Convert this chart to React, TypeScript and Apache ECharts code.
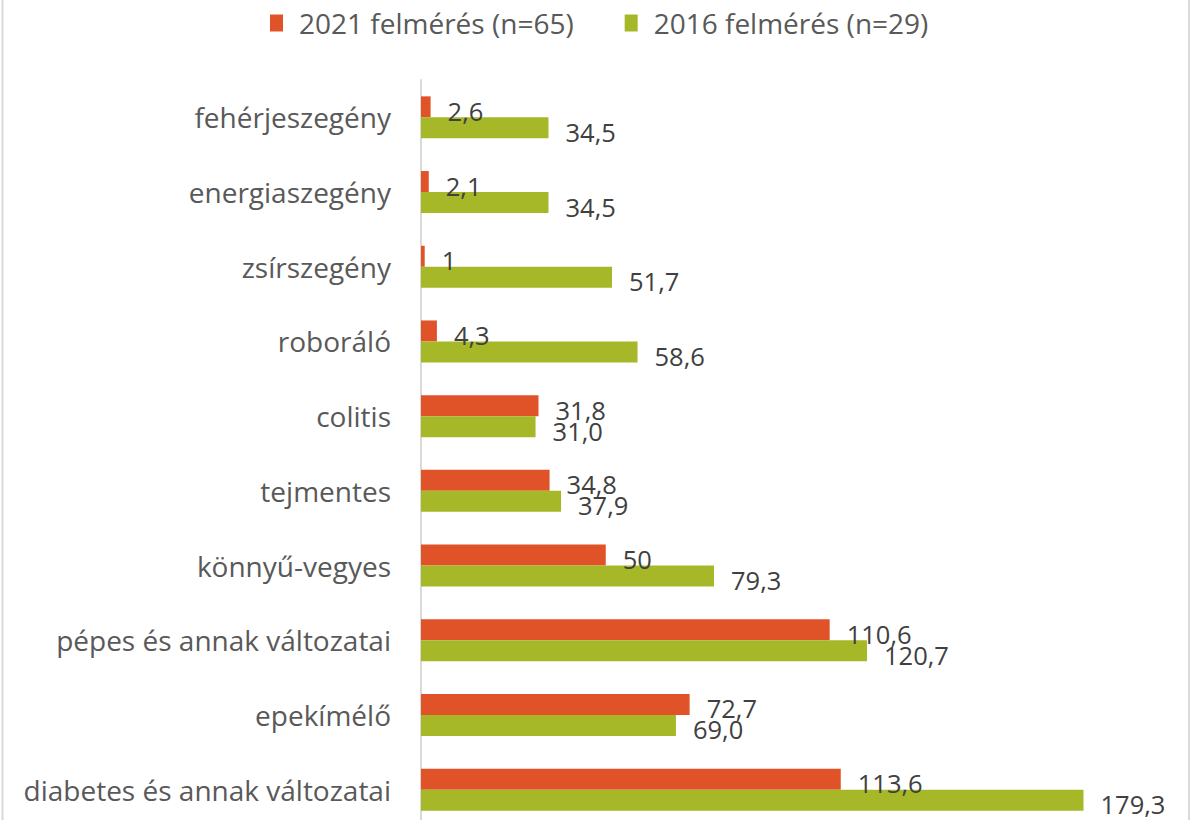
import React, { useEffect, useRef } from "react";
import * as echarts from "echarts";

const categories = [
  "fehérjeszegény",
  "energiaszegény",
  "zsírszegény",
  "roboráló",
  "colitis",
  "tejmentes",
  "könnyű-vegyes",
  "pépes és annak változatai",
  "epekímélő",
  "diabetes és annak változatai",
];
const values2021 = [2.6, 2.1, 1, 4.3, 31.8, 34.8, 50, 110.6, 72.7, 113.6];
const labels2021 = ["2,6", "2,1", "1", "4,3", "31,8", "34,8", "50", "110,6", "72,7", "113,6"];
const values2016 = [34.5, 34.5, 51.7, 58.6, 31.0, 37.9, 79.3, 120.7, 69.0, 179.3];
const labels2016 = ["34,5", "34,5", "51,7", "58,6", "31,0", "37,9", "79,3", "120,7", "69,0", "179,3"];
const seriesNames = ["2021 felmérés (n=65)", "2016 felmérés (n=29)"];

const FONT = "Open Sans";

export default function App() {
  const ref = useRef<HTMLDivElement>(null);
  useEffect(() => {
    document.body.style.margin = "0";
    const chart = echarts.init(ref.current!, null, { renderer: "svg" });
    const labelStyle = (labels: string[]) => ({
      show: true,
      position: "right",
      offset: [12, 4],
      fontFamily: FONT,
      fontSize: 25.5,
      color: "#404040",
      formatter: (p: any) => labels[p.dataIndex],
    });
    chart.setOption({
      animation: false,
      backgroundColor: "#ffffff",
      textStyle: { fontFamily: FONT },
      legend: {
        top: 4,
        left: 265,
        itemWidth: 13,
        itemHeight: 17,
        itemGap: 51,
        icon: "rect",
        textStyle: {
          fontFamily: FONT,
          fontSize: 28,
          color: "#595959",
          padding: [0, 0, 0, 11],
        },
        data: seriesNames,
      },
      grid: { left: 421, right: 31, top: 80, bottom: 3, containLabel: false },
      xAxis: {
        type: "value",
        min: 0,
        max: 200,
        show: false,
      },
      yAxis: {
        type: "category",
        inverse: true,
        data: categories,
        axisLine: { show: true, lineStyle: { color: "#d9d9d9", width: 2 } },
        axisTick: { show: false },
        axisLabel: { margin: 30, fontFamily: FONT, fontSize: 28, color: "#595959" },
      },
      graphic: [
        { type: "line", shape: { x1: 2.5, y1: 0, x2: 2.5, y2: 830 }, style: { stroke: "#d9d9d9", lineWidth: 2 } },
        { type: "line", shape: { x1: 1189, y1: 0, x2: 1189, y2: 830 }, style: { stroke: "#d9d9d9", lineWidth: 2 } },
      ],
      series: [
        {
          name: seriesNames[0],
          type: "bar",
          data: values2021,
          itemStyle: { color: "#E05227" },
          barWidth: 21,
          barGap: "0%",
          label: labelStyle(labels2021),
        },
        {
          name: seriesNames[1],
          type: "bar",
          data: values2016,
          itemStyle: { color: "#A6B827" },
          barWidth: 21,
          barGap: "0%",
          label: labelStyle(labels2016),
        },
      ],
    });
    return () => chart.dispose();
  }, []);
  return (
    <div style={{ width: 1191, height: 820, overflow: "hidden" }}>
      <div ref={ref} style={{ width: 1191, height: 830 }} />
    </div>
  );
}
